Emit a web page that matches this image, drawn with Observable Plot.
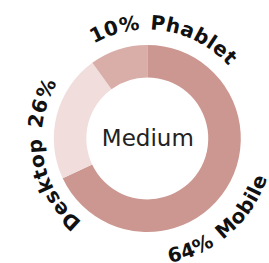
<!DOCTYPE html>
<html><head><meta charset="utf-8">
<script src="https://cdn.jsdelivr.net/npm/d3@7"></script>
<script src="https://cdn.jsdelivr.net/npm/@observablehq/plot@0.6"></script>
<style>html,body{margin:0;padding:0;background:#fff}</style>
</head><body><div id="chart"></div>
<script>
// ---- data ----
const categories = ["Mobile", "Desktop", "Phablet"];
const shares = [68, 22, 10];               // arc sizes as drawn (share of circle, %)
const labels = ["64% Mobile", "Desktop 26%", "10% Phablet"];
const centerLabel = "Medium";
const colors = ["#cc9791", "#f1dddc", "#d9aea9"];

const data = categories.map((c, i) => ({category: c, share: shares[i], label: labels[i], color: colors[i]}));
const pie = d3.pie().value(d => d.share).sort(null)(data);

// ---- layout ----
const R_OUT = 1, R_IN = 0.652;
const labelLayout = {
  Mobile:  {angle: 139, radius: 1.35, flip: true},
  Desktop: {angle: 260, radius: 1.13,  flip: false},
  Phablet: {angle: 9.5, radius: 1.165,  flip: false}
};

function arcsMark(index, scales) {
  const cx = scales.x(0), cy = scales.y(0), r = scales.x(1) - cx;
  const arc = d3.arc().innerRadius(R_IN * r).outerRadius(R_OUT * r);
  const g = d3.create("svg:g").attr("transform", `translate(${cx},${cy})`);
  g.selectAll("path").data(pie).join("path")
    .attr("d", arc).attr("fill", d => d.data.color);
  return g.node();
}

function labelsMark(index, scales) {
  const cx = scales.x(0), cy = scales.y(0), r = scales.x(1) - cx;
  const g = d3.create("svg:g").attr("transform", `translate(${cx},${cy})`);
  pie.forEach((d, i) => {
    const L = labelLayout[d.data.category];
    const a = L.angle * Math.PI / 180, rr = L.radius * r, h = 80 * Math.PI / 180;
    const a0 = L.flip ? a + h : a - h, a1 = L.flip ? a - h : a + h;
    const p = t => [rr * Math.sin(t), -rr * Math.cos(t)];
    const [x0, y0] = p(a0), [x1, y1] = p(a1);
    const id = "labelpath" + i;
    g.append("path").attr("id", id).attr("fill", "none")
      .attr("d", `M${x0},${y0}A${rr},${rr} 0 0 ${L.flip ? 0 : 1} ${x1},${y1}`);
    g.append("text")
      .attr("font-family", "DejaVu Sans")
      .attr("font-size", 20).attr("font-weight", "bold")
      .attr("letter-spacing", 0.4).attr("word-spacing", 2).attr("fill", "#111")
      .append("textPath").attr("href", "#" + id)
      .attr("startOffset", "50%").attr("text-anchor", "middle")
      .text(d.data.label);
  });
  return g.node();
}

const chart = Plot.plot({
  width: 269, height: 263,
  marginLeft: 53.8, marginRight: 28.2, marginTop: 45, marginBottom: 31,
  x: {domain: [-1, 1], axis: null},
  y: {domain: [-1, 1], axis: null},
  style: {fontFamily: "DejaVu Sans", background: "#fff", overflow: "visible"},
  marks: [
    arcsMark,
    labelsMark,
    Plot.text([centerLabel], {x: () => 0, y: () => 0, text: d => d, fontSize: 23, fill: "#222", fontWeight: "normal"})
  ]
});
document.getElementById("chart").appendChild(chart);
</script>
</body></html>
